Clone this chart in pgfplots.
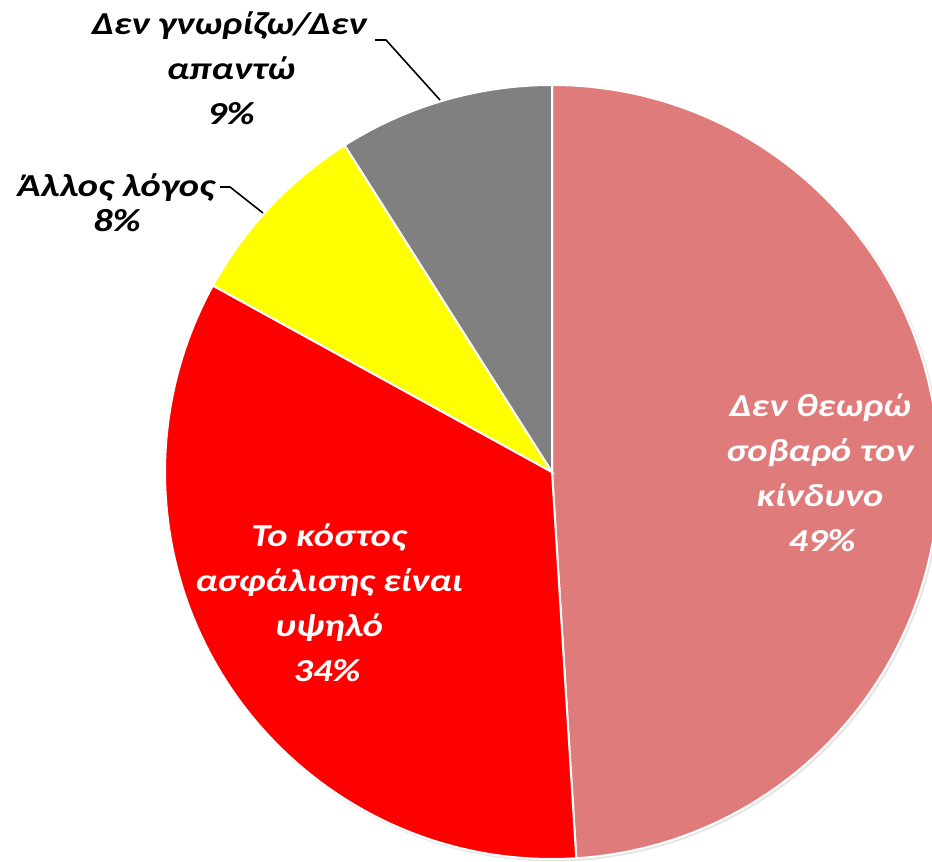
\documentclass[border=0pt]{standalone}
\usepackage{pgfplots}
\usepackage{pgfplotstable}
\pgfplotsset{compat=1.18}
\usepackage{fontspec}
\setmainfont{Carlito}
\newfontfamily\lblfont[FakeStretch=1.2]{Carlito}
\definecolor{pinkc}{RGB}{224,123,123}
\definecolor{redc}{RGB}{255,0,0}
\definecolor{yelc}{RGB}{255,255,0}
\definecolor{grayc}{RGB}{128,128,128}

\pgfplotstableread{
label value
A 49
B 34
C 8
D 9
}\piedata

\pgfplotstablegetelem{0}{value}\of\piedata \let\vA\pgfplotsretval
\pgfplotstablegetelem{1}{value}\of\piedata \let\vB\pgfplotsretval
\pgfplotstablegetelem{2}{value}\of\piedata \let\vC\pgfplotsretval
\pgfplotstablegetelem{3}{value}\of\piedata \let\vD\pgfplotsretval
\pgfmathsetmacro\aA{90}
\pgfmathsetmacro\aB{\aA-3.6*\vA}
\pgfmathsetmacro\aC{\aB-3.6*\vB}
\pgfmathsetmacro\aD{\aC-3.6*\vC}
\pgfmathsetmacro\aE{\aD-3.6*\vD}

\newcommand{\lfont}{\lblfont\fontsize{16pt}{22.5pt}\selectfont\bfseries\itshape}

\begin{document}
\begin{tikzpicture}
\begin{axis}[
  name=ax,
  width=466pt, height=431pt, scale only axis,
  xmin=0, xmax=932, ymin=0, ymax=862,
  hide axis, clip=true,
]
% soft shadow
\fill[black!10] (axis cs:553.5,388.5) circle[radius=194pt];
\fill[pinkc, draw=white, line width=1pt] (axis cs:552,390) -- ++(\aA:193.5pt) arc[start angle=\aA, end angle=\aB, radius=193.5pt] -- cycle;
\fill[redc, draw=white, line width=1pt] (axis cs:552,390) -- ++(\aB:193.5pt) arc[start angle=\aB, end angle=\aC, radius=193.5pt] -- cycle;
\fill[yelc, draw=white, line width=1pt] (axis cs:552,390) -- ++(\aC:193.5pt) arc[start angle=\aC, end angle=\aD, radius=193.5pt] -- cycle;
\fill[grayc, draw=white, line width=1pt] (axis cs:552,390) -- ++(\aD:193.5pt) arc[start angle=\aD, end angle=\aE, radius=193.5pt] -- cycle;

% leader lines
\draw[black, line width=0.8pt] (axis cs:375,822) -- (axis cs:386,822) -- (axis cs:440,762);
\draw[black, line width=0.8pt] (axis cs:220,675) -- (axis cs:230,675) -- (axis cs:263,649);

% labels
\begin{scope}[every node/.style={anchor=base, inner sep=0pt, font=\lfont}]
\node[white] at (axis cs:820,445) {Δεν θεωρώ};
\node[white] at (axis cs:820,400) {σοβαρό τον};
\node[white] at (axis cs:820,355) {κίνδυνο};
\node[white] at (axis cs:822,310) {49\%};

\node[white] at (axis cs:329,315) {Το κόστος};
\node[white] at (axis cs:329,270) {ασφάλισης είναι};
\node[white] at (axis cs:329,225) {υψηλό};
\node[white] at (axis cs:327,180) {34\%};

\node[black] at (axis cs:229,827) {Δεν γνωρίζω/Δεν};
\node[black] at (axis cs:231,782) {απαντώ};
\node[black] at (axis cs:231,737) {9\%};

\node[black] at (axis cs:116,665) {Άλλος λόγος};
\node[black] at (axis cs:117,630) {8\%};
\end{scope}
\end{axis}
\pgfresetboundingbox
\useasboundingbox (ax.south west) rectangle (ax.north east);
\end{tikzpicture}
\end{document}
